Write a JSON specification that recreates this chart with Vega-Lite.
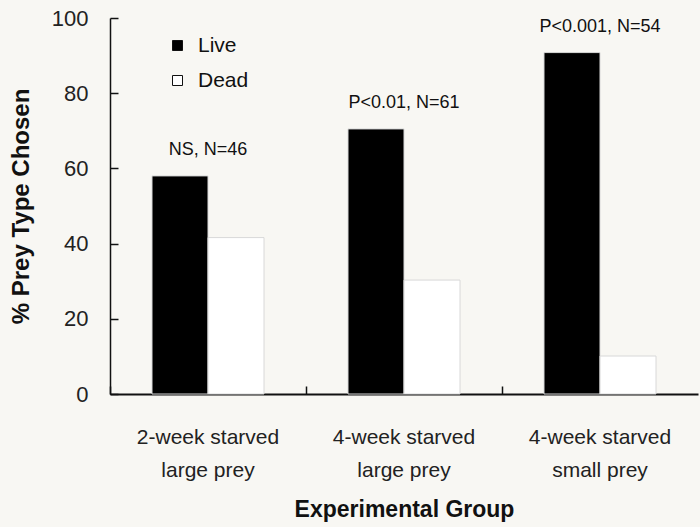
{
  "$schema": "https://vega.github.io/schema/vega-lite/v6.json",
  "width": 588,
  "height": 376,
  "autosize": {"type": "none"},
  "padding": {"left": 110, "top": 18, "right": 2, "bottom": 133},
  "background": "#f8f7f3",
  "config": {"view": {"stroke": null}, "font": "Liberation Sans"},
  "data": {
    "values": [
      {"group": "2-week starved large prey", "type": "Live", "pct": 58, "note": "NS, N=46"},
      {"group": "2-week starved large prey", "type": "Dead", "pct": 41.6, "note": "NS, N=46"},
      {"group": "4-week starved large prey", "type": "Live", "pct": 70.5, "note": "P<0.01, N=61"},
      {"group": "4-week starved large prey", "type": "Dead", "pct": 30.3, "note": "P<0.01, N=61"},
      {"group": "4-week starved small prey", "type": "Live", "pct": 90.8, "note": "P<0.001, N=54"},
      {"group": "4-week starved small prey", "type": "Dead", "pct": 10.1, "note": "P<0.001, N=54"}
    ]
  },
  "encoding": {
    "x": {
      "field": "group",
      "type": "nominal",
      "sort": null,
      "scale": {"paddingInner": 0, "paddingOuter": 0},
      "axis": {
        "title": "Experimental Group",
        "titleFontSize": 23,
        "titleFontWeight": "bold",
        "titleColor": "#111",
        "titlePadding": 18,
        "labelAngle": 0,
        "labelFontSize": 21,
        "labelColor": "#222",
        "labelLineHeight": 33,
        "labelPadding": 40,
        "labelExpr": "[substring(datum.label,0,14), substring(datum.label,15)]",
        "bandPosition": 0,
        "tickSize": -8,
        "tickColor": "#111",
        "tickWidth": 1.5,
        "domainColor": "#111",
        "domainWidth": 2
      }
    }
  },
  "layer": [
    {
      "mark": {"type": "bar", "stroke": "#d8d8d8", "strokeWidth": 1},
      "encoding": {
        "xOffset": {"field": "type", "type": "nominal", "sort": ["Live", "Dead"], "scale": {"paddingOuter": 0.75, "paddingInner": 0}},
        "y": {
          "field": "pct",
          "type": "quantitative",
          "scale": {"domain": [0, 100]},
          "axis": {
            "title": "% Prey Type Chosen",
            "titleFontSize": 24,
            "titleFontWeight": "bold",
            "titleColor": "#111",
            "titlePadding": 18,
            "values": [0, 20, 40, 60, 80, 100],
            "grid": false,
            "labelFontSize": 22,
            "labelColor": "#222",
            "labelPadding": 30,
            "tickSize": -8,
            "tickColor": "#111",
            "tickWidth": 1.5,
            "domainColor": "#111",
            "domainWidth": 1.5
          }
        },
        "fill": {
          "field": "type",
          "type": "nominal",
          "scale": {"domain": ["Live", "Dead"], "range": ["#000000", "#ffffff"]},
          "legend": {
            "title": null,
            "orient": "none",
            "legendX": 57,
            "legendY": 17,
            "symbolType": "square",
            "symbolSize": 100,
            "symbolStrokeColor": "#111",
            "symbolStrokeWidth": 1,
            "labelFontSize": 21,
            "labelColor": "#111",
            "rowPadding": 13,
            "labelOffset": 10
          }
        }
      }
    },
    {
      "transform": [{"filter": "datum.type === 'Live'"}],
      "mark": {"type": "text", "fontSize": 18, "color": "#111", "dy": -21, "baseline": "alphabetic"},
      "encoding": {
        "y": {"field": "pct", "type": "quantitative"},
        "text": {"field": "note"}
      }
    }
  ]
}
